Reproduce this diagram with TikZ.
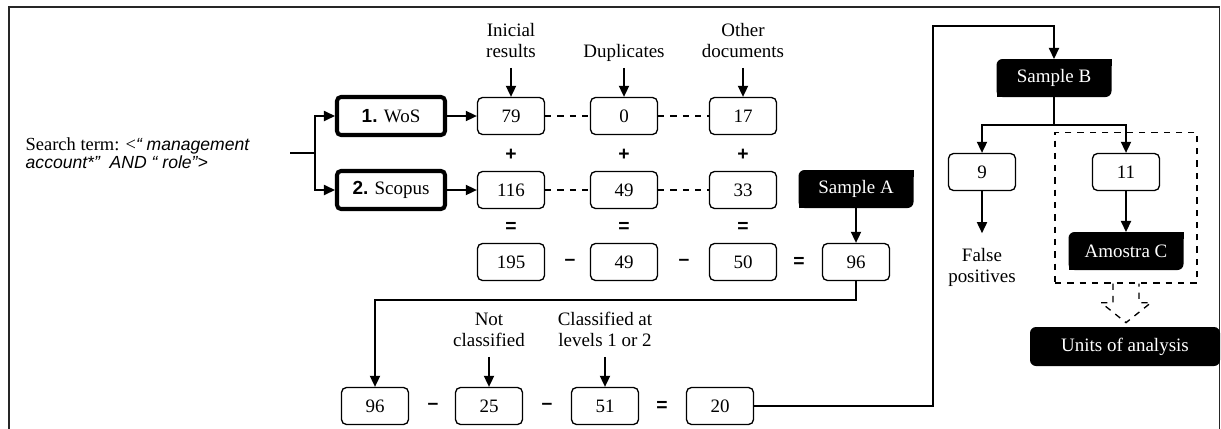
\documentclass[tikz,border=0pt]{standalone}
\usepackage{fontspec}
\setmainfont{Liberation Serif}
\setsansfont{Liberation Sans}
\usepackage{tikz}
\usetikzlibrary{arrows.meta,positioning,fit}

\begin{document}
\begin{tikzpicture}[>={Triangle[length=6.3pt,width=5.8pt]}, line width=0.8pt,
  font=\fontsize{10.8}{12}\selectfont,
  numbox/.style={draw, rounded corners=0.1cm, minimum width=1.34cm, minimum height=0.74cm, inner sep=0pt, line width=0.75pt},
  srcbox/.style={draw, rounded corners=0.08cm, line width=2.3pt, minimum width=2.16cm, minimum height=0.76cm, inner sep=0pt},
  samplebox/.style={fill=black, text=white, rounded corners=0.12cm, minimum width=2.3cm, minimum height=0.76cm, inner sep=0pt, outer sep=0pt},
  lbl/.style={align=center, inner xsep=1pt, inner ysep=5.5pt, text depth=0pt},
  op/.style={font=\fontsize{11}{12}\selectfont\sffamily\bfseries, inner sep=0pt},
  dashline/.style={line width=0.75pt, dash pattern=on 3.6pt off 3.4pt},
  grp/.style={draw, dashline, inner xsep=0.27cm, inner ysep=0.26cm}]
  \useasboundingbox (0,0) rectangle (24.42,8.56);
  \draw[line width=0.85pt, black!85] (0.18,-0.5) |- (24.39,8.42) -- (24.39,-0.5);

  % search and the two databases
  \node[anchor=west, inner sep=0pt, align=left, font=\fontsize{10.5}{10.2}\selectfont] (term) at (0.5,5.5)
    {Search term: <{\sffamily\itshape\fontsize{10}{10.2}\selectfont“ management}\\{\sffamily\itshape\fontsize{10}{10.2}\selectfont account*”~ AND “ role”>}};
  \coordinate (src) at (5.8,5.5);
  \coordinate (fk) at (6.3,5.5);
  \node[srcbox] (wos) at (7.82,6.24) {{\sffamily\bfseries 1.} WoS};
  \node[srcbox] (sco) at (7.82,4.76) {{\sffamily\bfseries 2.} Scopus};
  \draw (src) -- (fk);
  \draw[->] (fk) |- (wos);
  \draw[->] (fk) |- (sco);

  % counts per database
  \node[numbox] (b79) at (10.22,6.24) {79};
  \node[numbox] (b0) at (12.48,6.24) {0};
  \node[numbox] (b17) at (14.86,6.24) {17};
  \node[numbox] (b116) at (10.22,4.76) {116};
  \node[numbox] (b49) at (12.48,4.76) {49};
  \node[numbox] (b33) at (14.86,4.76) {33};
  \draw[->] (wos) -- (b79);
  \draw[->] (sco) -- (b116);
  \draw[dashline] (b79) -- (b0) (b0) -- (b17);
  \draw[dashline] (b116) -- (b49) (b49) -- (b33);
  \node[lbl, above=0.58cm of b79] (linit) {Inicial\\results};
  \node[lbl, above=0.58cm of b0] (ldup) {Duplicates};
  \node[lbl, above=0.58cm of b17] (loth) {Other\\documents};
  \draw[->] (linit) -- (b79);
  \draw[->] (ldup) -- (b0);
  \draw[->] (loth) -- (b17);
  \foreach \x [count=\i] in {10.22,12.48,14.86} {
    \node[op] (plus\i) at (\x,5.46) {+};
    \node[op] (eq\i) at (\x,4.02) {=};
  }

  % totals
  \node[numbox] (s195) at (10.22,3.32) {195};
  \node[op] (m1) at (11.4,3.32) {–};
  \node[numbox] (s49) at (12.48,3.32) {49};
  \node[op] (m2) at (13.68,3.32) {–};
  \node[numbox] (s50) at (14.86,3.32) {50};
  \node[op] (e4) at (15.98,3.32) {=};
  \node[numbox] (s96) at (17.12,3.32) {96};
  \node[samplebox] (sa) at (17.12,4.78) {Sample A};
  \draw[->] (sa) -- (s96);

  % classification
  \coordinate (bend) at (7.5,2.56);
  \node[numbox] (t96) at (7.5,0.44) {96};
  \node[op] (m3) at (8.66,0.44) {–};
  \node[numbox] (t25) at (9.78,0.44) {25};
  \node[op] (m4) at (10.94,0.44) {–};
  \node[numbox] (t51) at (12.1,0.44) {51};
  \node[op] (e5) at (13.24,0.44) {=};
  \node[numbox] (t20) at (14.4,0.44) {20};
  \draw[->] (s96) |- (bend) -- (t96);
  \node[lbl, above=0.6cm of t25] (lnot) {Not\\classified};
  \node[lbl, above=0.6cm of t51] (lcls) {Classified at\\levels 1 or 2};
  \draw[->] (lnot) -- (t25);
  \draw[->] (lcls) -- (t51);

  % sample B and C
  \coordinate (up) at (18.66,8.04);
  \node[samplebox] (sb) at (21.08,7.0) {Sample B};
  \draw[->] (t20) -| (up) -| (sb);
  \coordinate (br) at (21.08,6.06);
  \node[numbox] (b9) at (19.64,5.12) {9};
  \node[numbox] (b11) at (22.52,5.12) {11};
  \draw (sb) -- (br);
  \draw[->] (br) -| (b9);
  \draw[->] (br) -| (b11);
  \node[lbl, below=0.84cm of b9, inner ysep=8.3pt] (lfalse) {False\\positives};
  \draw[->] (b9) -- (lfalse);
  \node[samplebox] (sc) at (22.52,3.54) {Amostra C};
  \draw[->] (b11) -- (sc);
  \coordinate (gtop) at ([yshift=0.15cm]b11.north);
  \node[grp, fit=(sc)(gtop)] (box) {};
  \draw[dashline, shift={(box.south)}] (-0.26,0) -- (-0.26,-0.38) -- (-0.5,-0.38) -- (0,-0.78)
    -- (0.5,-0.38) -- (0.26,-0.38) -- (0.26,0);
  \node[samplebox, minimum width=3.8cm, minimum height=0.78cm] (units) at (22.5,1.63) {Units of analysis};

  % square corners of the sample boxes
  \foreach \n in {sa,sb,sc} {
    \fill (\n.north east) rectangle ++(-0.13,-0.13);
    \fill (\n.south west) rectangle ++(0.13,0.13);
  }
\end{tikzpicture}
\end{document}
